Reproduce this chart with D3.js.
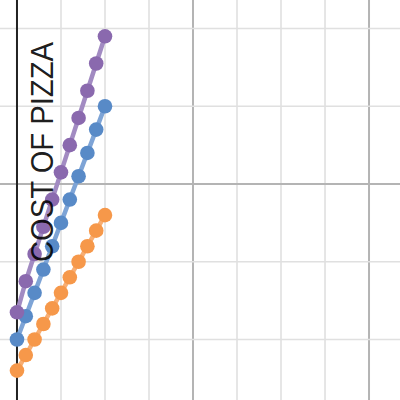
<!DOCTYPE html>
<html><head><meta charset="utf-8">
<script src="https://cdn.jsdelivr.net/npm/d3@7"></script>
<style>html,body{margin:0;padding:0;background:#fff;}svg{display:block;}</style>
</head><body>
<script>
const xs = [0,1,2,3,4,5,6,7,8,9,10];
const orangeVals = [16,18,20,22,24,26,28,30,32,34,36];
const blueVals = [20,23,26,29,32,35,38,41,44,47,50];
const purpleVals = [23.5,27.5,31,34.5,38,41.5,45,48.5,52,55.5,59];
const xGrid = [-5,0,5,10,15,20,25,30,35,40,45];
const yGrid = [0,10,20,30,40,50,60,70];
const yLabel = "COST OF PIZZA";

const W = 400, H = 400;
const x = d3.scaleLinear().domain([-1.93, 43.52]).range([0, W]);
const y = d3.scaleLinear().domain([12.22, 63.67]).range([H, 0]);

const svg = d3.select("body").append("svg").attr("width", W).attr("height", H);

// grid
const g = svg.append("g");
g.selectAll("line.vx").data(xGrid.filter(v => v !== 0)).enter().append("line")
  .attr("x1", d => x(d)).attr("x2", d => x(d)).attr("y1", 0).attr("y2", H)
  .attr("stroke", d => d % 20 === 0 ? "#b4b4b4" : "#e0e0e0")
  .attr("stroke-width", d => d % 20 === 0 ? 2 : 1.6);
g.selectAll("line.hy").data(yGrid.filter(v => v !== 0)).enter().append("line")
  .attr("y1", d => y(d)).attr("y2", d => y(d)).attr("x1", 0).attr("x2", W)
  .attr("stroke", d => d % 40 === 0 ? "#b4b4b4" : "#e0e0e0")
  .attr("stroke-width", d => d % 40 === 0 ? 2 : 1.6);
// y axis
svg.append("line").attr("x1", x(0)).attr("x2", x(0)).attr("y1", 0).attr("y2", H)
  .attr("stroke", "#222").attr("stroke-width", 2);

const series = [
  {vals: orangeVals, dot: "#f6984a", line: "#f8ae73"},
  {vals: blueVals, dot: "#588ac7", line: "#7ea4d6"},
  {vals: purpleVals, dot: "#8a69ae", line: "#a28bc2"}
];
const lineGen = d3.line().x(d => x(d[0])).y(d => y(d[1]));
series.forEach(s => {
  const pts = xs.map((v, i) => [v, s.vals[i]]);
  svg.append("path").datum(pts).attr("d", lineGen).attr("fill", "none")
    .attr("stroke", s.line).attr("stroke-width", 4.5).attr("stroke-linecap", "round");
  svg.append("g").selectAll("circle").data(pts).enter().append("circle")
    .attr("cx", d => x(d[0])).attr("cy", d => y(d[1])).attr("r", 7.3)
    .attr("fill", s.dot);
});

svg.append("text")
  .attr("transform", "translate(53,152) rotate(-90)")
  .attr("text-anchor", "middle")
  .attr("font-family", "Liberation Sans, Arial, sans-serif")
  .attr("font-size", 31)
  .attr("textLength", 220).attr("lengthAdjust", "spacingAndGlyphs")
  .attr("fill", "#000").attr("fill-opacity", 0.9)
  .text(yLabel);
</script>
</body></html>
